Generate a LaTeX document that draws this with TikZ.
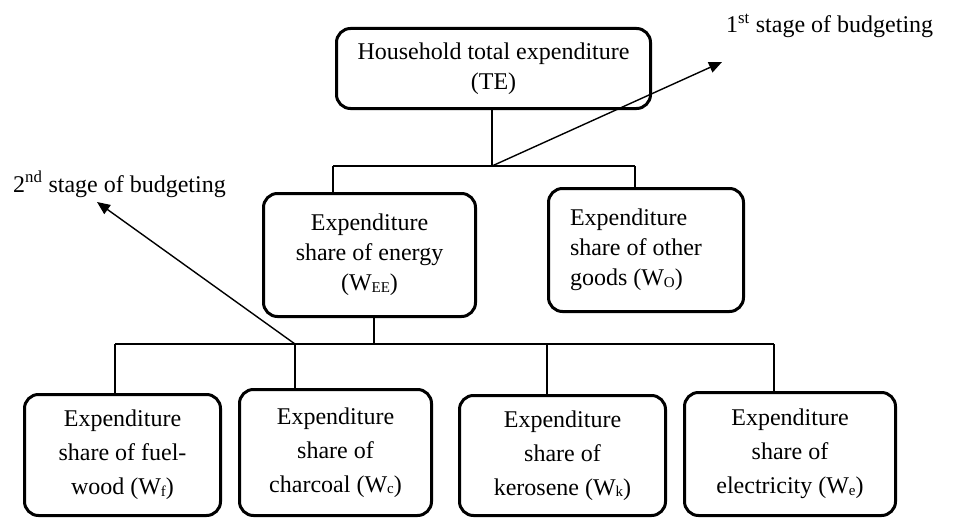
\documentclass[tikz,border=0pt]{standalone}
\usepackage{fontspec}
\setmainfont{Liberation Serif}
\usetikzlibrary{arrows.meta}
\newcommand{\smallsub}[1]{\raisebox{-1.5pt}{\fontsize{15}{15}\selectfont #1}}
\begin{document}
\begin{tikzpicture}[x=1pt,y=-1pt,
  box/.style={draw, line width=3pt, rounded corners=14pt, inner sep=0pt, align=center},
  upper/.style={font=\fontsize{24}{30}\selectfont},
  lower/.style={font=\fontsize{24}{34}\selectfont},
  link/.style={line width=1.2pt},
  stagearrow/.style={line width=1.4pt, -{Triangle[length=13pt,width=11pt]}},
  lbl/.style={anchor=base west, inner sep=0pt, font=\fontsize{24}{30}\selectfont}]
\useasboundingbox (0,0) rectangle (953,519);

% boxes
\node[box, upper, minimum width=314pt, minimum height=80pt] (top) at (493.5,68.5)
  {Household total expenditure\\(TE)};
\node[box, upper, minimum width=212pt, minimum height=123pt] (energy) at (369.5,255)
  {Expenditure\\share of energy\\(W\smallsub{EE})};
\node[box, upper, minimum width=195pt, minimum height=123pt, align=flush left, text width=152pt] (other) at (646,250)
  {Expenditure\\share of other\\goods (W\smallsub{O})};
\node[box, lower, minimum width=196pt, minimum height=121pt] (fuel) at (122.5,455)
  {Expenditure\\share of fuel-\\wood (W\smallsub{f})};
\node[box, lower, minimum width=192pt, minimum height=126pt] (char) at (335.5,452.5)
  {Expenditure\\share of\\charcoal (W\smallsub{c})};
\node[box, lower, minimum width=206pt, minimum height=120pt] (kero) at (562.5,455.5)
  {Expenditure\\share of\\kerosene (W\smallsub{k})};
\node[box, lower, minimum width=211pt, minimum height=123pt] (elec) at (790,454)
  {Expenditure\\share of\\electricity (W\smallsub{e})};

% junction coordinates
\coordinate (j1) at (492,166);
\coordinate (eTop) at (333,166);
\coordinate (oTop) at (635,166);
\coordinate (j2) at (374,344);
\coordinate (fTop) at (115,344);
\coordinate (cTop) at (295,344);
\coordinate (kTop) at (547,344);
\coordinate (elTop) at (774,344);

% first level connectors
\draw[link] (top.south -| j1) -- (j1);
\draw[link] (eTop) -- (oTop);
\draw[link] (eTop) -- (eTop |- energy.north);
\draw[link] (oTop) -- (oTop |- other.north);

% second level connectors
\draw[link] (energy.south -| j2) -- (j2);
\draw[link] (fTop) -- (elTop);
\draw[link] (fTop) -- (fTop |- fuel.north);
\draw[link] (cTop) -- (cTop |- char.north);
\draw[link] (kTop) -- (kTop |- kero.north);
\draw[link] (elTop) -- (elTop |- elec.north);

% stage labels and arrows
\node[lbl] (s1) at (726,33) {1\textsuperscript{st} stage of budgeting};
\node[lbl] (s2) at (13,192) {2\textsuperscript{nd} stage of budgeting};
\coordinate (s1tip) at (722,62);
\coordinate (s2tip) at (97,202);
\draw[stagearrow] (j1) -- (s1tip);
\draw[stagearrow] (cTop) -- (s2tip);
\end{tikzpicture}
\end{document}
